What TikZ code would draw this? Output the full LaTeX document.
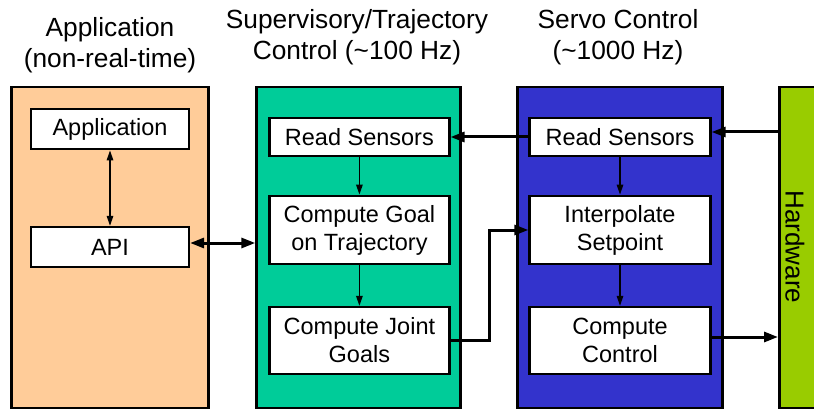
\documentclass[tikz,border=0pt]{standalone}
\usepackage{fontspec}
\setmainfont{Liberation Sans}
\usetikzlibrary{arrows.meta}

\definecolor{appfill}{HTML}{FFCC99}
\definecolor{supfill}{HTML}{00CC99}
\definecolor{servofill}{HTML}{3333CC}
\definecolor{hwfill}{HTML}{99CC00}

\begin{document}
\begin{tikzpicture}[x=1pt,y=-1pt,
  sTip/.tip={Triangle[length=10pt,width=6.5pt]},
  bTip/.tip={Triangle[length=14pt,width=10pt]},
  panel/.style={draw=black,line width=2.5pt,inner sep=0pt,anchor=north west},
  stage/.style={draw=black,fill=white,line width=2.3pt,align=center,inner sep=0pt,
    font=\fontsize{23.5}{28}\selectfont},
  title/.style={align=center,inner sep=0pt,font=\fontsize{26.3}{31}\selectfont},
  flow/.style={line width=1.4pt,-sTip},
  link/.style={line width=3pt,-bTip},
]
\useasboundingbox (0,0) rectangle (814,409);
\clip (0,0) rectangle (814,409);

% column panels
\node[panel,fill=appfill,minimum width=197pt,minimum height=321pt] (pa) at (10,86) {};
\node[panel,fill=supfill,minimum width=203.7pt,minimum height=321pt] (pg) at (255.3,86) {};
\node[panel,fill=servofill,minimum width=205pt,minimum height=321pt] (pb) at (516,86) {};
\node[panel,fill=hwfill,minimum width=60pt,minimum height=321pt] (hw) at (778,86) {};

% column titles
\node[title] (ta) at (110,45.5) {Application\\(non-real-time)};
\node[title] (tg) at (357,37) {Supervisory/Trajectory\\Control (\textasciitilde100 Hz)};
\node[title] (tb) at (618,37) {Servo Control\\(\textasciitilde1000 Hz)};
\node[rotate=-90,font=\fontsize{26}{30}\selectfont] (hwl) at (795,247) {Hardware};

% application column
\node[stage,minimum width=158pt,minimum height=40.5pt] (app) at (110,129) {Application};
\node[stage,minimum width=158pt,minimum height=40pt] (api) at (110,247) {API};

% supervisory column
\node[stage,minimum width=180pt,minimum height=38pt] (g1) at (359.4,137) {Read Sensors};
\node[stage,minimum width=180pt,minimum height=68.5pt] (g2) at (359.4,230) {Compute Goal\\on Trajectory};
\node[stage,minimum width=180pt,minimum height=67pt] (g3) at (359.4,340.5) {Compute Joint\\Goals};

% servo column
\node[stage,minimum width=181pt,minimum height=38pt] (b1) at (620,137) {Read Sensors};
\node[stage,minimum width=181pt,minimum height=68.5pt] (b2) at (620,230) {Interpolate\\Setpoint};
\node[stage,minimum width=181pt,minimum height=67pt] (b3) at (620,340.5) {Compute\\Control};

% helper points for the connectors
\coordinate (apiR) at ([yshift=4pt]api.east);
\coordinate (b1R) at ([yshift=5pt]b1.east);
\coordinate (b3R) at ([yshift=3.5pt]b3.east);
\coordinate (bend) at (489,0);

% connectors inside the columns
\draw[flow,sTip-sTip] (app) -- (api);
\draw[flow] (g1) -- (g2);
\draw[flow] (g2) -- (g3);
\draw[flow] (b1) -- (b2);
\draw[flow] (b2) -- (b3);

% connectors between the columns
\draw[link,bTip-bTip] (apiR) -- (apiR -| pg.west);
\draw[link] (b1.west) -- (g1.east);
\draw[link] (b1R -| hw.west) -- (b1R);
\draw[link] (g3.east) -- (g3.east -| bend) |- (b2.west);
\draw[link] (b3R) -- (b3R -| hw.west);
\end{tikzpicture}
\end{document}
